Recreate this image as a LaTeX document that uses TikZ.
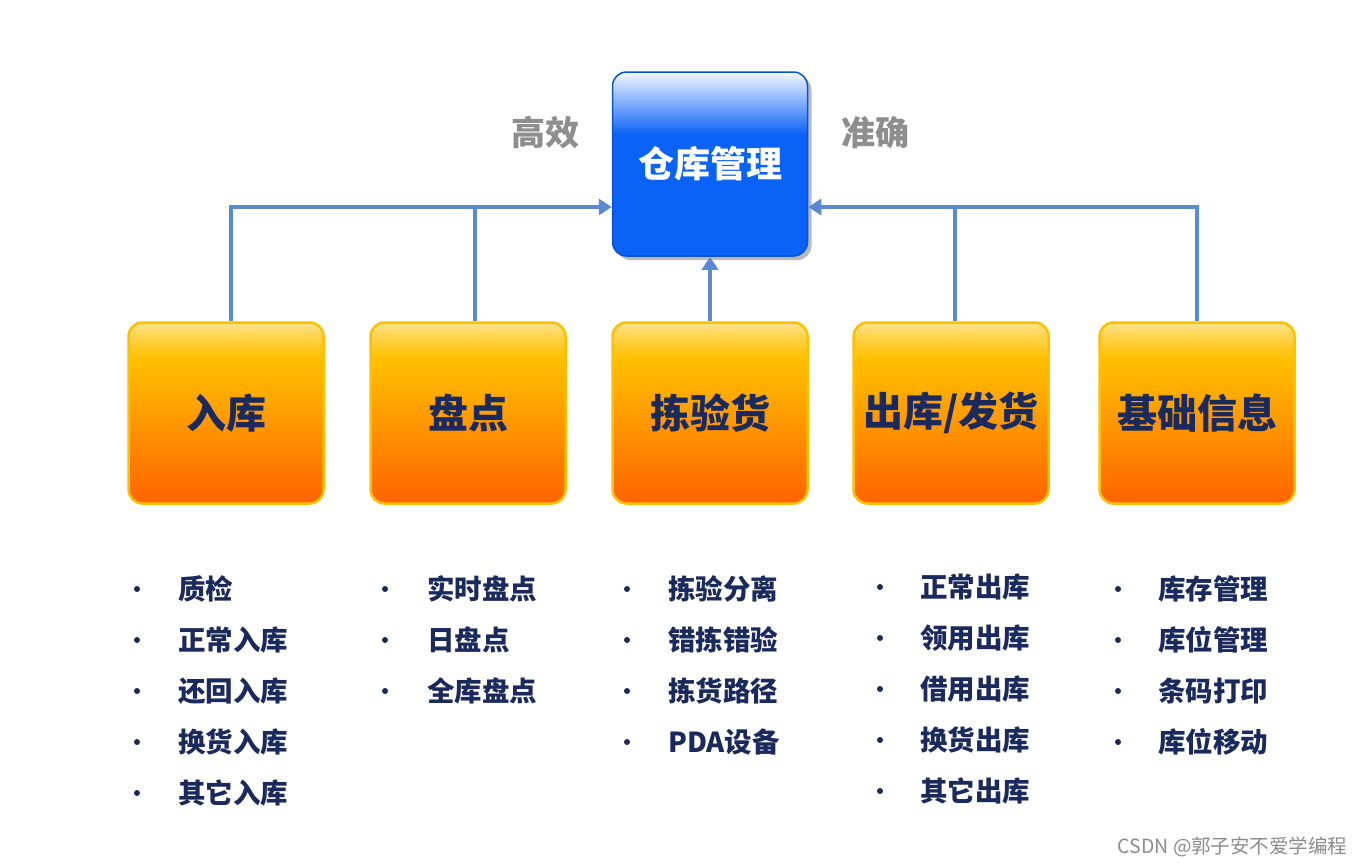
\documentclass[tikz,border=0pt]{standalone}
\usepackage{fontspec}
\setmainfont{Noto Sans CJK SC}
\usetikzlibrary{arrows.meta,shadows}
\definecolor{linkblue}{HTML}{5A8AD2}
\definecolor{navy}{HTML}{1B2A5C}
\definecolor{boxblue}{HTML}{0A62F6}
\definecolor{tagray}{HTML}{8E8E8E}
\definecolor{org1}{HTML}{FF6400}
\definecolor{org2}{HTML}{FF8600}
\definecolor{org3}{HTML}{FFA900}
\definecolor{org4}{HTML}{FFC000}
\definecolor{org5}{HTML}{FFD24A}
\definecolor{org6}{HTML}{FFE48C}
\pgfdeclareverticalshading{orangeshade}{100bp}{color(0bp)=(org1); color(25bp)=(org1);
  color(40bp)=(org2); color(55bp)=(org3); color(65bp)=(org4); color(71bp)=(org5);
  color(75bp)=(org6); color(100bp)=(org6)}
\pgfdeclareverticalshading{blueshade}{100bp}{color(0bp)=(boxblue); color(25bp)=(boxblue);
  color(58bp)=(boxblue); color(66bp)=(boxblue!55!white); color(75bp)=(boxblue!5!white); color(100bp)=(boxblue!5!white)}
\tikzset{
  topbox/.style={rounded corners=14pt, shading=blueshade, draw=boxblue!85!black, line width=1.5pt,
    minimum width=195pt, minimum height=184pt, text=white,
    font=\fontsize{36}{40}\selectfont\bfseries,
    drop shadow={shadow xshift=4pt, shadow yshift=-4pt, fill=black!45, opacity=.6}},
  modbox/.style={rounded corners=14pt, shading=orangeshade, draw=org4, line width=2.5pt,
    minimum width=195pt, minimum height=181pt, text=navy,
    font=\fontsize{40}{44}\selectfont\bfseries},
  link/.style={draw=linkblue, line width=4pt, -{Triangle[width=16pt,length=13pt]}},
  tag/.style={text=tagray, font=\fontsize{34}{38}\selectfont\bfseries},
  item/.style={anchor=west, text=navy, inner sep=0pt, font=\fontsize{27.5}{30}\selectfont\bfseries},
  dot/.style={circle, fill=navy, inner sep=0pt, minimum size=6pt},
}
\begin{document}
\begin{tikzpicture}[x=1pt,y=-1pt]
  \useasboundingbox[fill=white] (0,0) rectangle (1367,865);

  \node[topbox] (top) at (710,164) {仓库管理};
  \node[tag] (gx) at (545,133) {高效};
  \node[tag] (zq) at (875,133) {准确};

  \node[modbox] (ruku) at (226,413) {入库};
  \node[modbox] (pandian) at (468,413) {盘点};
  \node[modbox] (jianyan) at (710,413) {拣验货};
  \node[modbox] (chuku) at (951,413) {出库/发货};
  \node[modbox] (jichu) at (1197,413) {基础信息};

  \coordinate (hl) at ([yshift=-43pt]top.west);
  \coordinate (hr) at ([yshift=-43pt]top.east);
  \draw[link] ([xshift=5pt]ruku.north) |- (hl);
  \draw[link,-] ([xshift=7pt]pandian.north) -- ([xshift=7pt]pandian.north |- hl);
  \draw[link] (jianyan.north) -- (top.south);
  \draw[link] (jichu.north) |- (hr);
  \draw[link,-] ([xshift=4pt]chuku.north) -- ([xshift=4pt]chuku.north |- hr);

  % bullet lists
  \foreach \c/\bx/\tx/\ys/\list in {
      a/137/178/589/{质检,正常入库,还回入库,换货入库,其它入库},
      b/385/427/589/{实时盘点,日盘点,全库盘点},
      c/627/668/589/{拣验分离,错拣错验,拣货路径,PDA设备},
      d/880/920/587/{正常出库,领用出库,借用出库,换货出库,其它出库},
      e/1118/1158/589/{库存管理,库位管理,条码打印,库位移动}} {
    \foreach \t [count=\i] in \list {
      \node[dot] (dot-\c\i) at (\bx,{\ys+51*(\i-1)}) {};
      \node[item] (it-\c\i) at (\tx,{\ys+51*(\i-1)}) {\t};
    }
  }

  \node[anchor=east, text=black!45, font=\fontsize{19.5}{22}\selectfont] (mark) at (1351,847) {CSDN @郭子安不爱学编程};
\end{tikzpicture}
\end{document}
